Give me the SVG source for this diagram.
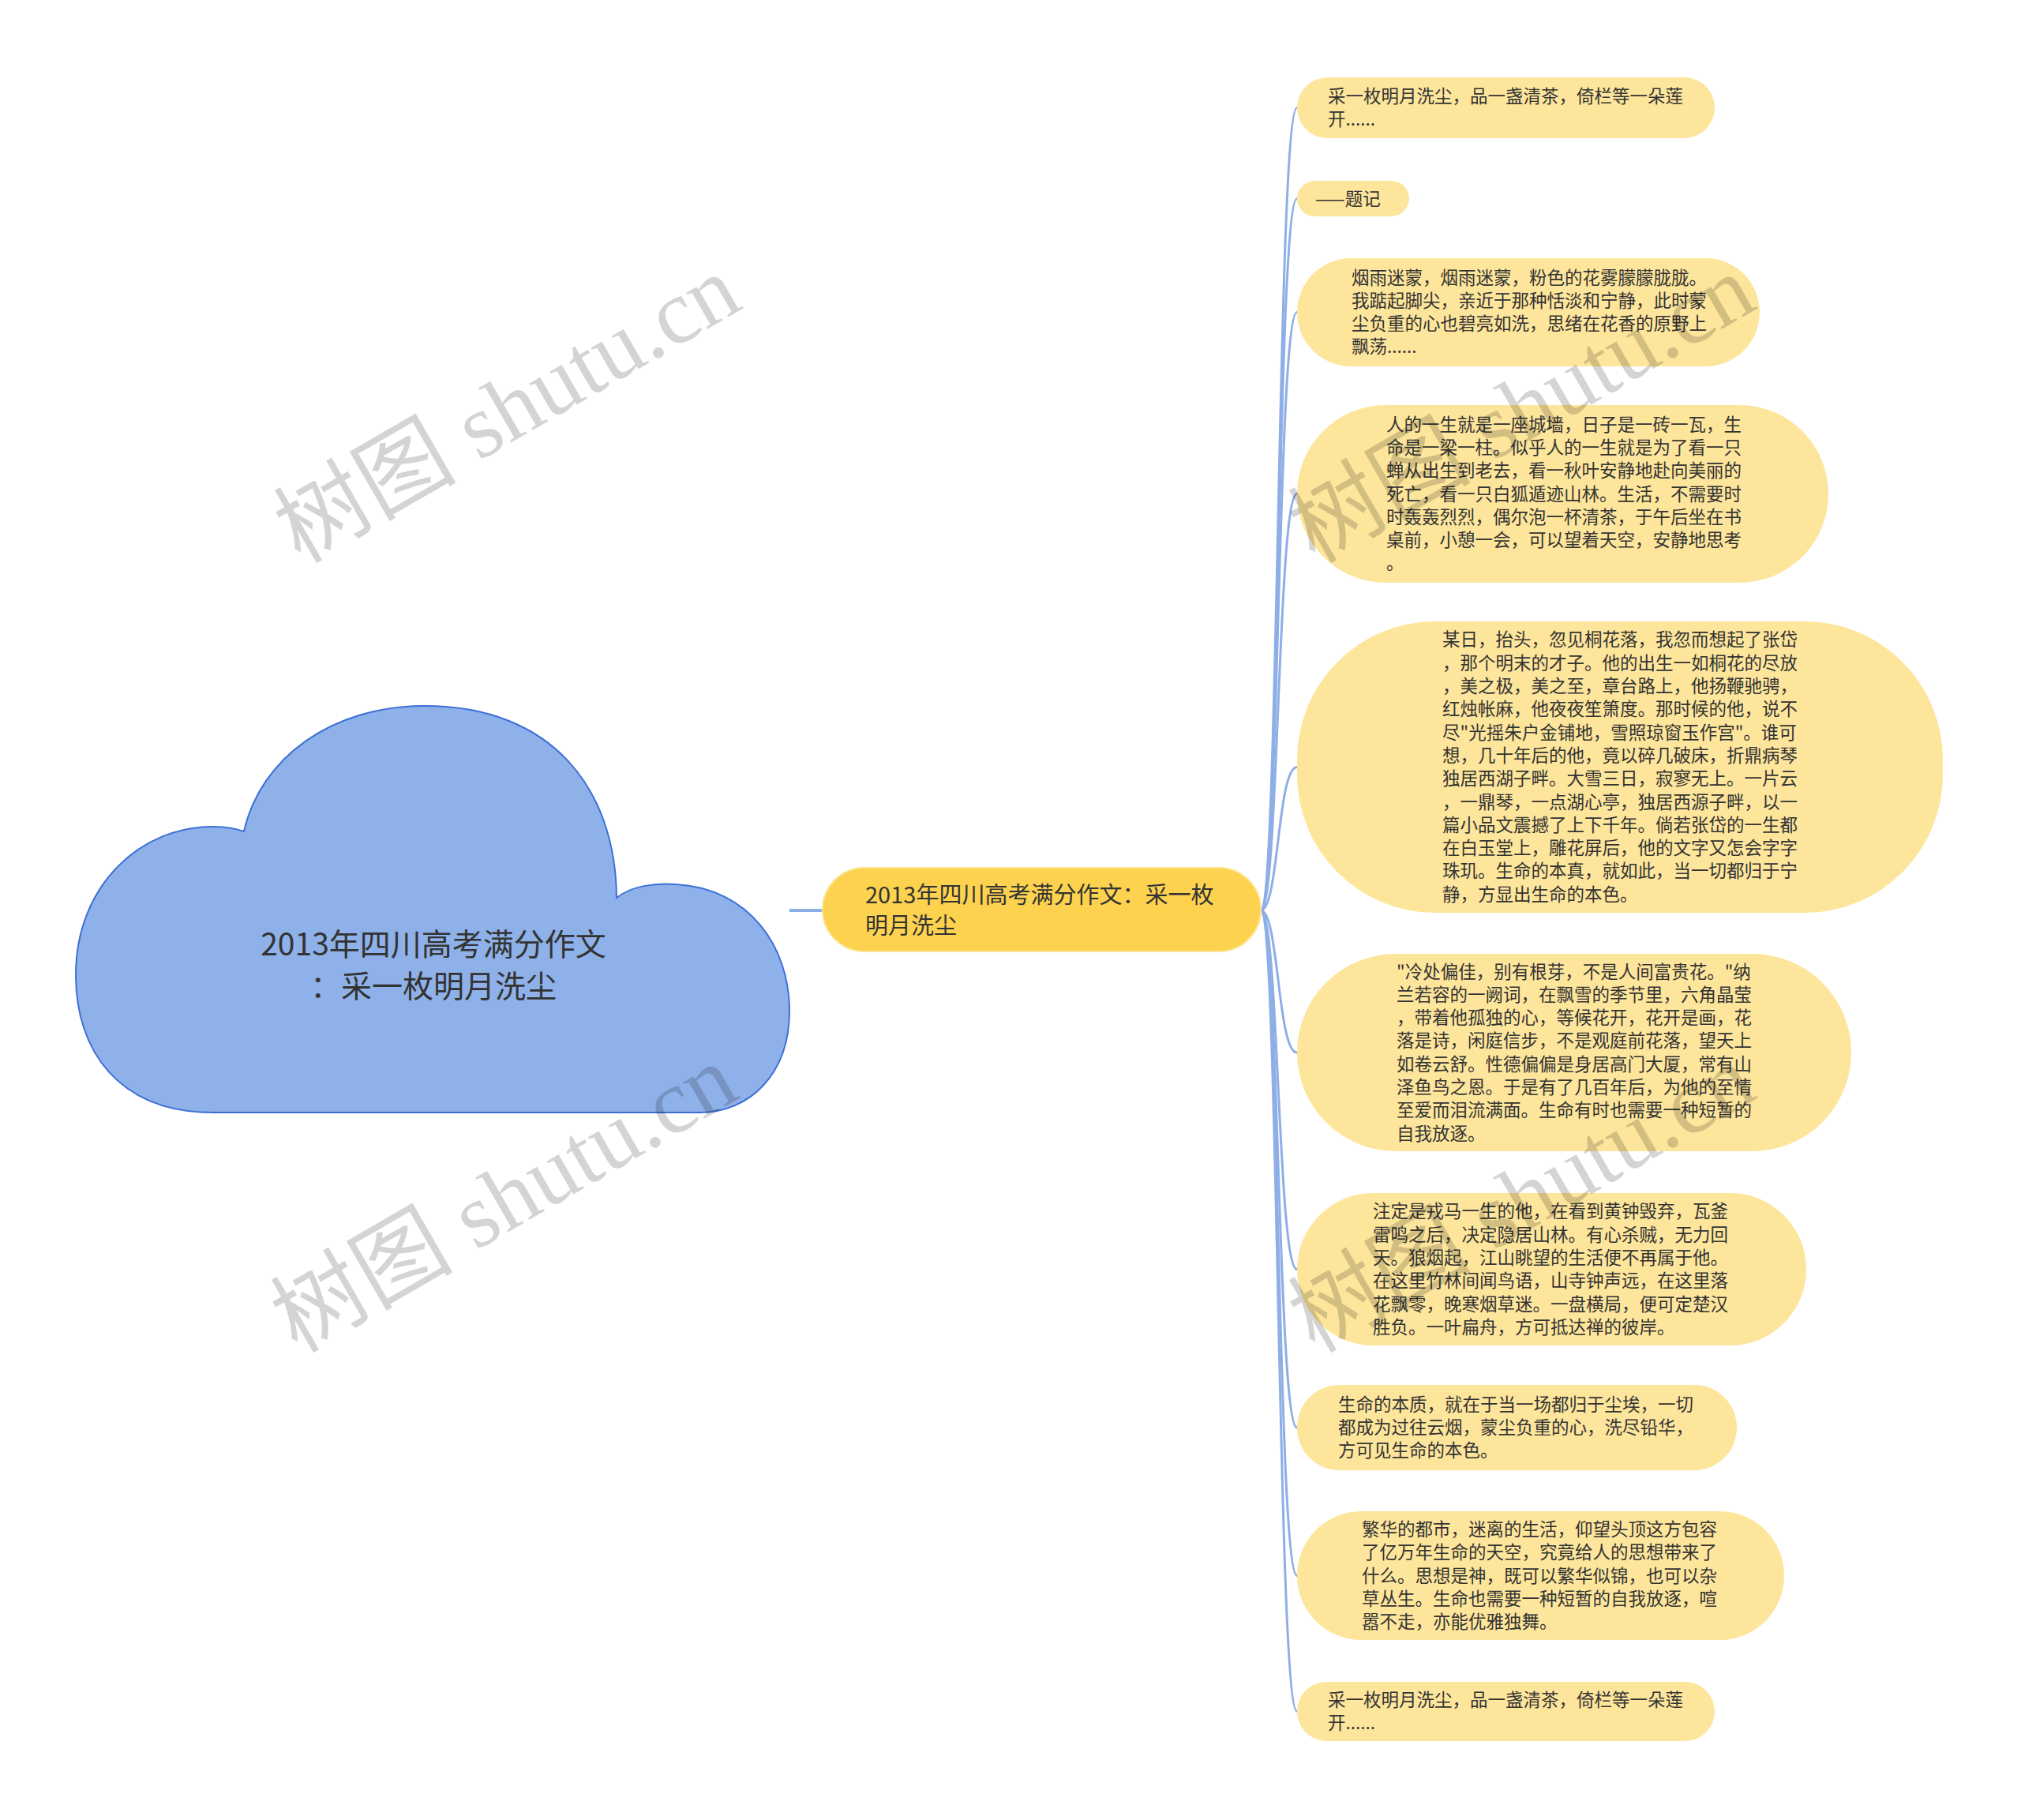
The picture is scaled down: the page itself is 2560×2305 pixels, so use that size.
<svg xmlns="http://www.w3.org/2000/svg" width="2560" height="2305" viewBox="0 0 2560 2305">
<style>
.leaf{fill:#fde59b}
.lt{font-family:"Noto Sans CJK SC","Noto Sans",sans-serif;font-size:22.5px;fill:#333333}
.conn{fill:none;stroke:#8eaee6;stroke-width:3}
.wm{font-family:"Liberation Serif","Noto Sans CJK SC",serif;font-size:116px;fill:#000000;fill-opacity:0.17}
</style>
<rect width="2560" height="2305" fill="#ffffff"/>
<g id="connectors">
<line x1="1000" y1="1153" x2="1043" y2="1153" stroke="#8eaee6" stroke-width="4"/>
<path class="conn" d="M1597,1153 C1620,1153 1618,136.5 1643,136.5"/>
<path class="conn" d="M1597,1153 C1620,1153 1618,251.5 1643,251.5"/>
<path class="conn" d="M1597,1153 C1620,1153 1618,395.5 1643,395.5"/>
<path class="conn" d="M1597,1153 C1620,1153 1618,625.5 1643,625.5"/>
<path class="conn" d="M1597,1153 C1620,1153 1618,971.5 1643,971.5"/>
<path class="conn" d="M1597,1153 C1620,1153 1618,1333 1643,1333"/>
<path class="conn" d="M1597,1153 C1620,1153 1618,1607.5 1643,1607.5"/>
<path class="conn" d="M1597,1153 C1620,1153 1618,1808 1643,1808"/>
<path class="conn" d="M1597,1153 C1620,1153 1618,1995.5 1643,1995.5"/>
<path class="conn" d="M1597,1153 C1620,1153 1618,2167.5 1643,2167.5"/>
</g>
<g id="root">
<path d="M270,1409 C150,1409 96,1330 96,1235 C96,1120 180,1045 272,1047 C290,1047 300,1050 309,1053 C330,960 420,894 538,894 C700,894 780,1000 781,1137 C800,1122 830,1118 856,1120 C950,1125 1000,1200 1000,1280 C1000,1360 950,1409 886,1409 Z" fill="#8fb1e9" stroke="#3c70d6" stroke-width="2"/>
<text font-family="&quot;Noto Sans CJK SC&quot;,&quot;Noto Sans&quot;,sans-serif" font-size="39" fill="#333333" text-anchor="middle"><tspan x="549" y="1210">2013年四川高考满分作文</tspan><tspan x="549" y="1263">：采一枚明月洗尘</tspan></text>
</g>
<g id="main">
<rect x="1042" y="1099" width="555" height="106" rx="53" fill="#fcd24f" stroke="#fde48f" stroke-width="2"/>
<text font-family="&quot;Noto Sans CJK SC&quot;,&quot;Noto Sans&quot;,sans-serif" font-size="29" fill="#333333"><tspan x="1096" y="1144">2013年四川高考满分作文：采一枚</tspan><tspan x="1096" y="1183">明月洗尘</tspan></text>
</g>
<g id="n1">
<rect class="leaf" x="1643" y="98" width="529" height="77" rx="38.5"/>
<text class="lt"><tspan x="1682" y="130">采一枚明月洗尘，品一盏清茶，倚栏等一朵莲</tspan><tspan x="1682" dy="29.3">开......</tspan></text>
</g>
<g id="n2">
<rect class="leaf" x="1643" y="229" width="142" height="45" rx="22.5"/>
<text class="lt"><tspan x="1666" y="259.5">——题记</tspan></text>
</g>
<g id="n3">
<rect class="leaf" x="1643" y="327" width="586" height="137" rx="68.5"/>
<text class="lt"><tspan x="1712" y="359.5">烟雨迷蒙，烟雨迷蒙，粉色的花雾朦朦胧胧。</tspan><tspan x="1712" dy="29.3">我踮起脚尖，亲近于那种恬淡和宁静，此时蒙</tspan><tspan x="1712" dy="29.3">尘负重的心也碧亮如洗，思绪在花香的原野上</tspan><tspan x="1712" dy="29.3">飘荡......</tspan></text>
</g>
<g id="n4">
<rect class="leaf" x="1643" y="513" width="673" height="225" rx="112.5"/>
<text class="lt"><tspan x="1756" y="545.6">人的一生就是一座城墙，日子是一砖一瓦，生</tspan><tspan x="1756" dy="29.3">命是一梁一柱。似乎人的一生就是为了看一只</tspan><tspan x="1756" dy="29.3">蝉从出生到老去，看一秋叶安静地赴向美丽的</tspan><tspan x="1756" dy="29.3">死亡，看一只白狐遁迹山林。生活，不需要时</tspan><tspan x="1756" dy="29.3">时轰轰烈烈，偶尔泡一杯清茶，于午后坐在书</tspan><tspan x="1756" dy="29.3">桌前，小憩一会，可以望着天空，安静地思考</tspan><tspan x="1756" dy="29.3">。</tspan></text>
</g>
<g id="n5">
<rect class="leaf" x="1643" y="787" width="818" height="369" rx="175"/>
<text class="lt"><tspan x="1827" y="818.4">某日，抬头，忽见桐花落，我忽而想起了张岱</tspan><tspan x="1827" dy="29.3">，那个明末的才子。他的出生一如桐花的尽放</tspan><tspan x="1827" dy="29.3">，美之极，美之至，章台路上，他扬鞭驰骋，</tspan><tspan x="1827" dy="29.3">红烛帐麻，他夜夜笙箫度。那时候的他，说不</tspan><tspan x="1827" dy="29.3">尽"光摇朱户金铺地，雪照琼窗玉作宫"。谁可</tspan><tspan x="1827" dy="29.3">想，几十年后的他，竟以碎几破床，折鼎病琴</tspan><tspan x="1827" dy="29.3">独居西湖子畔。大雪三日，寂寥无上。一片云</tspan><tspan x="1827" dy="29.3">，一鼎琴，一点湖心亭，独居西源子畔，以一</tspan><tspan x="1827" dy="29.3">篇小品文震撼了上下千年。倘若张岱的一生都</tspan><tspan x="1827" dy="29.3">在白玉堂上，雕花屏后，他的文字又怎会字字</tspan><tspan x="1827" dy="29.3">珠玑。生命的本真，就如此，当一切都归于宁</tspan><tspan x="1827" dy="29.3">静，方显出生命的本色。</tspan></text>
</g>
<g id="n6">
<rect class="leaf" x="1643" y="1208" width="702" height="250" rx="125"/>
<text class="lt"><tspan x="1769" y="1238.5">"冷处偏佳，别有根芽，不是人间富贵花。"纳</tspan><tspan x="1769" dy="29.3">兰若容的一阙词，在飘雪的季节里，六角晶莹</tspan><tspan x="1769" dy="29.3">，带着他孤独的心，等候花开，花开是画，花</tspan><tspan x="1769" dy="29.3">落是诗，闲庭信步，不是观庭前花落，望天上</tspan><tspan x="1769" dy="29.3">如卷云舒。性德偏偏是身居高门大厦，常有山</tspan><tspan x="1769" dy="29.3">泽鱼鸟之恩。于是有了几百年后，为他的至情</tspan><tspan x="1769" dy="29.3">至爱而泪流满面。生命有时也需要一种短暂的</tspan><tspan x="1769" dy="29.3">自我放逐。</tspan></text>
</g>
<g id="n7">
<rect class="leaf" x="1643" y="1511" width="645" height="193" rx="96.5"/>
<text class="lt"><tspan x="1739" y="1542.3">注定是戎马一生的他，在看到黄钟毁弃，瓦釜</tspan><tspan x="1739" dy="29.3">雷鸣之后，决定隐居山林。有心杀贼，无力回</tspan><tspan x="1739" dy="29.3">天。狼烟起，江山眺望的生活便不再属于他。</tspan><tspan x="1739" dy="29.3">在这里竹林间闻鸟语，山寺钟声远，在这里落</tspan><tspan x="1739" dy="29.3">花飘零，晚寒烟草迷。一盘横局，便可定楚汉</tspan><tspan x="1739" dy="29.3">胜负。一叶扁舟，方可抵达禅的彼岸。</tspan></text>
</g>
<g id="n8">
<rect class="leaf" x="1643" y="1754" width="557" height="108" rx="54"/>
<text class="lt"><tspan x="1695" y="1786.7">生命的本质，就在于当一场都归于尘埃，一切</tspan><tspan x="1695" dy="29.3">都成为过往云烟，蒙尘负重的心，洗尽铅华，</tspan><tspan x="1695" dy="29.3">方可见生命的本色。</tspan></text>
</g>
<g id="n9">
<rect class="leaf" x="1643" y="1914" width="617" height="163" rx="81.5"/>
<text class="lt"><tspan x="1725" y="1944.9">繁华的都市，迷离的生活，仰望头顶这方包容</tspan><tspan x="1725" dy="29.3">了亿万年生命的天空，究竟给人的思想带来了</tspan><tspan x="1725" dy="29.3">什么。思想是神，既可以繁华似锦，也可以杂</tspan><tspan x="1725" dy="29.3">草丛生。生命也需要一种短暂的自我放逐，喧</tspan><tspan x="1725" dy="29.3">嚣不走，亦能优雅独舞。</tspan></text>
</g>
<g id="n10">
<rect class="leaf" x="1643" y="2130" width="529" height="75" rx="37.5"/>
<text class="lt"><tspan x="1682" y="2161">采一枚明月洗尘，品一盏清茶，倚栏等一朵莲</tspan><tspan x="1682" dy="29.3">开......</tspan></text>
</g>
<g id="watermarks">
<text class="wm" x="662" y="552" text-anchor="middle" transform="rotate(-30 662 552)">树图 shutu.cn</text>
<text class="wm" x="658" y="1552" text-anchor="middle" transform="rotate(-30 658 1552)">树图 shutu.cn</text>
<text class="wm" x="1947" y="552" text-anchor="middle" transform="rotate(-30 1947 552)">树图 shutu.cn</text>
<text class="wm" x="1947" y="1552" text-anchor="middle" transform="rotate(-30 1947 1552)">树图 shutu.cn</text>
</g>
</svg>
